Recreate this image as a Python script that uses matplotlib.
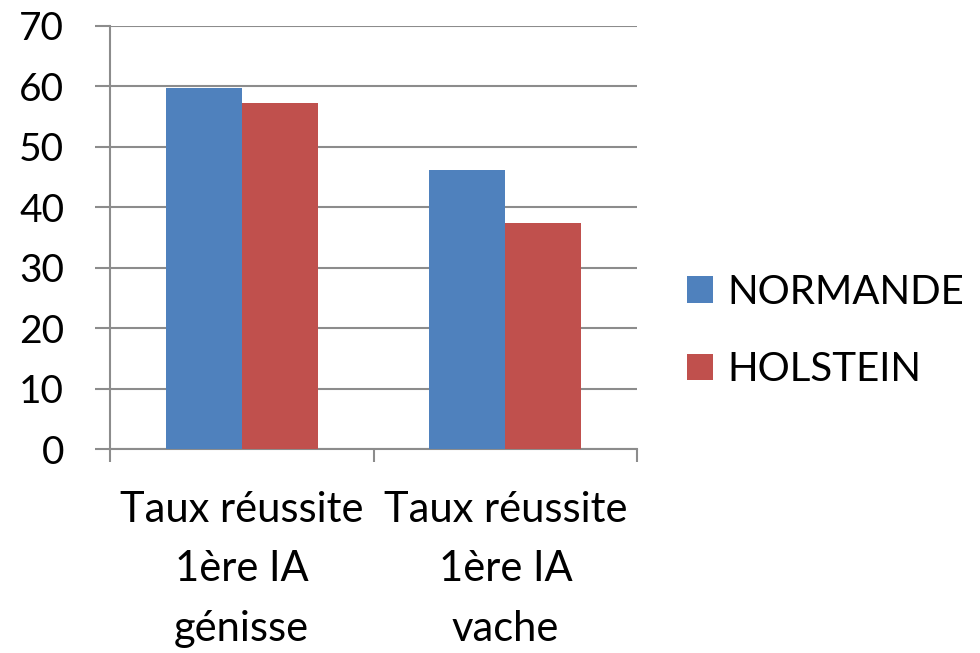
import numpy as np
import matplotlib.pyplot as plt

categories = ["Taux réussite\n1ère IA\ngénisse", "Taux réussite\n1ère IA\nvache"]
series_names = ["NORMANDE", "HOLSTEIN"]
normande = [59.7, 46.1]
holstein = [57.2, 37.4]
colors = ["#4f81bd", "#c0504d"]

plt.rcParams['font.family'] = ['Lato', 'DejaVu Sans']

fig = plt.figure(figsize=(9.8, 6.53), dpi=100)
ax = fig.add_axes([0.1122, 0.3124, 0.538, 0.6478])

x = np.arange(len(categories))
w = 0.288
ax.bar(x - w / 2, normande, w, color=colors[0], label=series_names[0], zorder=3)
ax.bar(x + w / 2, holstein, w, color=colors[1], label=series_names[1], zorder=3)

ax.set_xlim(-0.5, len(categories) - 0.5)
ax.set_ylim(0, 70)
ax.set_yticks(range(0, 71, 10))
ax.yaxis.grid(True, color="#8c8c8c", linewidth=1.5, zorder=0)

for s in ["top", "right"]:
    ax.spines[s].set_visible(False)
for s in ["left", "bottom"]:
    ax.spines[s].set_color("#8c8c8c")
    ax.spines[s].set_linewidth(1.5)

# category ticks at the boundaries, labels centered under groups
ax.set_xticks(np.arange(-0.5, len(categories), 1.0))
ax.set_xticklabels([])
ax.set_xticks(x, minor=True)
ax.set_xticklabels(categories, minor=True, fontsize=30, linespacing=1.7)
ax.tick_params(axis="x", which="minor", length=0, pad=30)
ax.tick_params(axis="x", which="major", length=9, width=1.5, color="#8c8c8c")
ax.tick_params(axis="y", length=11, width=1.5, color="#8c8c8c", labelsize=28, pad=22)

leg = fig.legend(loc="center left", bbox_to_anchor=(0.664, 0.493), frameon=False,
                 fontsize=29, handlelength=0.645, handleheight=0.645,
                 handletextpad=0.37, labelspacing=1.0)

fig.savefig("out.png", dpi=100)
